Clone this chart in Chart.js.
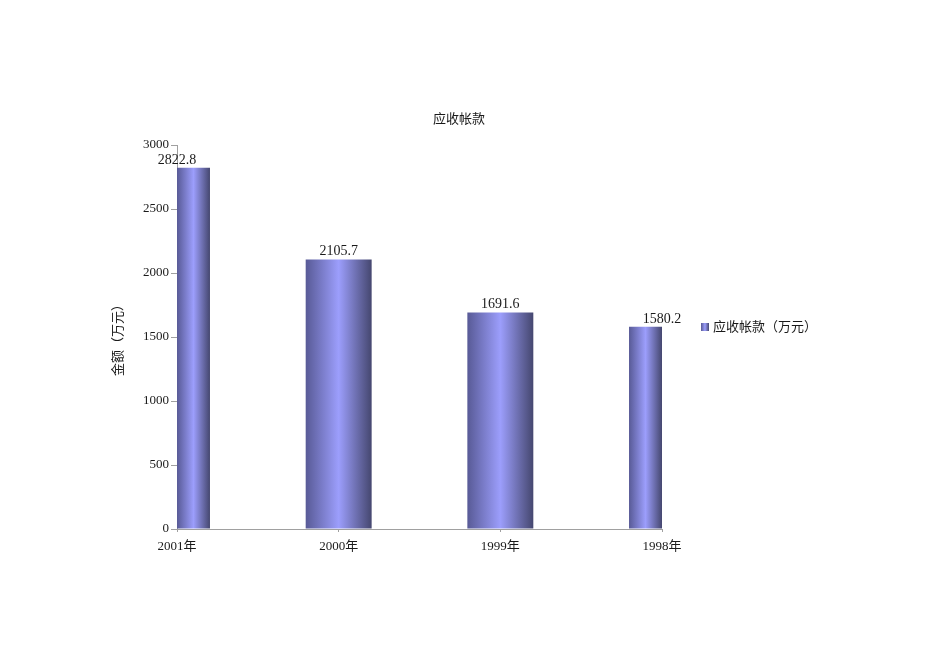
<!DOCTYPE html>
<html>
<head>
<meta charset="utf-8">
<script src="https://cdn.jsdelivr.net/npm/chart.js@4.4.1/dist/chart.umd.min.js"></script>
<style>
html,body{margin:0;padding:0;background:#ffffff;}
#wrap{width:950px;height:672px;}
</style>
</head>
<body>
<div id="wrap"><canvas id="c" width="950" height="672"></canvas></div>
<script>
// ---- data ----
const categories = ['2001年', '2000年', '1999年', '1998年'];
const values = [2822.8, 2105.7, 1691.6, 1580.2];
const yTickValues = [0, 500, 1000, 1500, 2000, 2500, 3000];
const seriesName = '应收帐款（万元）';
const chartTitle = '应收帐款';
const yAxisTitle = '金额（万元）';

// ---- style ----
const FONT = "'Liberation Serif', 'Noto Sans CJK SC', serif";
const TEXT = '#1a1a1a';
const AXIS = '#a0a0a0';
const BAR_FRACTION = 0.408;
const C_LEFT = '#585a96', C_MID = '#9c9efc', C_RIGHT = '#45476f';

function makeGrad(c2d, l, r) {
  const g = c2d.createLinearGradient(l, 0, r, 0);
  g.addColorStop(0, C_LEFT);
  g.addColorStop(0.5, C_MID);
  g.addColorStop(1, C_RIGHT);
  return g;
}

function barFill(ctx) {
  const chart = ctx.chart;
  const area = chart.chartArea;
  if (!area || ctx.dataIndex === undefined || !chart.scales.x) return '#7b7dd0';
  const xs = chart.scales.x;
  const spacing = (area.right - area.left) / (categories.length - 1);
  const w = spacing * BAR_FRACTION;
  const cx = xs.getPixelForValue(ctx.dataIndex);
  const l = Math.max(cx - w / 2, area.left);
  const r = Math.min(cx + w / 2, area.right);
  return makeGrad(chart.ctx, l, r);
}

const valueLabels = {
  id: 'valueLabels',
  afterDatasetsDraw(chart) {
    const c = chart.ctx;
    const meta = chart.getDatasetMeta(0);
    c.save();
    c.font = '14px ' + FONT;
    c.fillStyle = TEXT;
    c.textAlign = 'center';
    c.textBaseline = 'alphabetic';
    meta.data.forEach((bar, i) => {
      c.fillText(values[i].toFixed(1), bar.x, bar.y - 4);
    });
    c.restore();
  }
};

const sideLegend = {
  id: 'sideLegend',
  afterDraw(chart) {
    const c = chart.ctx;
    const area = chart.chartArea;
    const bx = area.right + 39;
    const by = 323;
    c.save();
    c.fillStyle = makeGrad(c, bx, bx + 8);
    c.fillRect(bx, by, 8, 8);
    c.font = '13px ' + FONT;
    c.fillStyle = TEXT;
    c.textAlign = 'left';
    c.textBaseline = 'middle';
    c.fillText(seriesName, bx + 12, by + 5);
    c.restore();
  }
};

new Chart(document.getElementById('c'), {
  type: 'bar',
  data: {
    labels: categories,
    datasets: [{
      label: seriesName,
      data: values,
      backgroundColor: barFill,
      borderWidth: 0,
      barPercentage: BAR_FRACTION,
      categoryPercentage: 1.0,
      clip: 0
    }]
  },
  options: {
    responsive: false,
    animation: false,
    layout: { padding: { left: 111, right: 143, top: 0, bottom: 113 } },
    plugins: {
      legend: { display: false },
      tooltip: { enabled: false },
      title: {
        display: true,
        text: chartTitle,
        color: TEXT,
        font: { family: FONT, size: 13, weight: 'normal' },
        padding: { top: 112, bottom: 17.4 }
      }
    },
    scales: {
      x: {
        offset: false,
        grid: { display: true, drawOnChartArea: false, drawTicks: true, tickLength: 3, color: AXIS, offset: false },
        border: { display: true, color: AXIS, width: 1 },
        ticks: { color: TEXT, font: { family: FONT, size: 13 }, padding: 7, maxRotation: 0, autoSkip: false },
        afterFit(s) { s.height = 30; }
      },
      y: {
        min: 0,
        max: 3000,
        afterBuildTicks(s) { s.ticks = yTickValues.map(v => ({ value: v })); },
        grid: { display: true, drawOnChartArea: false, drawTicks: true, tickLength: 6, color: AXIS },
        border: { display: true, color: AXIS, width: 1 },
        ticks: { color: TEXT, font: { family: FONT, size: 13 }, padding: 2, callback: v => String(v) },
        title: {
          display: true,
          text: yAxisTitle,
          color: TEXT,
          font: { family: FONT, size: 13 },
          padding: { top: 0, bottom: 0 }
        },
        afterFit(s) { s.width = 66; }
      },
      legendSpace: {
        type: 'linear',
        position: 'right',
        display: true,
        grid: { display: false },
        border: { display: false },
        ticks: { display: false },
        afterFit(s) { s.width = 145; }
      }
    }
  },
  plugins: [valueLabels, sideLegend]
});
</script>
</body>
</html>
